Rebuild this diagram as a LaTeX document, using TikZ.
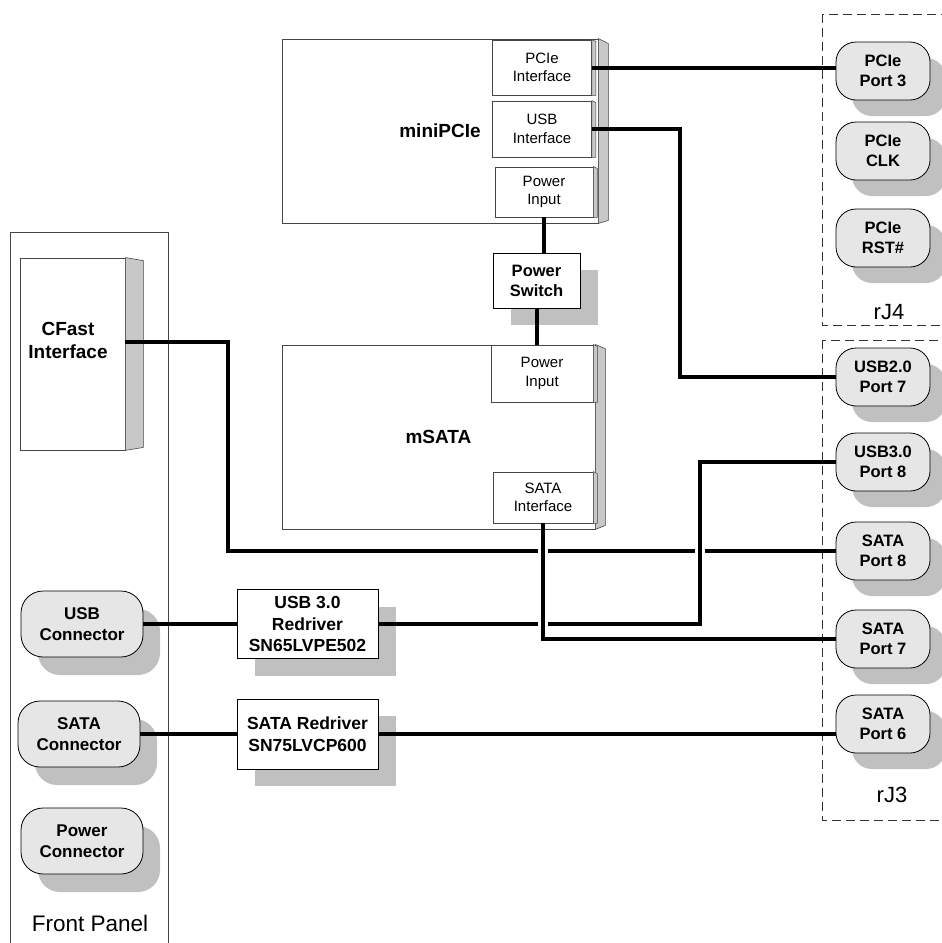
\documentclass[tikz,border=0pt]{standalone}
\usepackage{fontspec}
\setmainfont{Liberation Sans}
\usetikzlibrary{positioning, calc, shadows}
\definecolor{portGray}{RGB}{230,230,230}
\definecolor{shadeGray}{RGB}{192,192,192}
\definecolor{sideGray}{RGB}{200,200,200}
\definecolor{edgeGray}{RGB}{70,70,70}

\begin{document}
\begin{tikzpicture}[x=1pt, y=-1pt]
    \tikzstyle{block} = [rectangle, draw=edgeGray, fill=white, line width=0.8pt, inner sep=0pt]
    \tikzstyle{bigtext} = [font=\fontsize{19}{23}\selectfont\bfseries, align=center]
    \tikzstyle{iface} = [rectangle, draw=edgeGray, fill=white, line width=0.8pt, inner sep=0pt, align=center, font=\fontsize{15}{18.5}\selectfont]
    \tikzstyle{side} = [fill=sideGray, draw=edgeGray, line width=0.6pt]
    \tikzstyle{box} = [rectangle, draw=black, fill=white, line width=0.9pt, inner sep=0pt, align=center, drop shadow={shadow xshift=18pt, shadow yshift=-17pt, fill=shadeGray, opacity=1}]
    \tikzstyle{port} = [rectangle, rounded corners=20pt, draw=black, fill=portGray, line width=0.8pt, align=center, inner sep=0pt, minimum width=94pt, minimum height=58pt, font=\fontsize{16.5}{20}\selectfont\bfseries, drop shadow={shadow xshift=16pt, shadow yshift=-16pt, fill=shadeGray, opacity=1}]
    \tikzstyle{conn} = [rectangle, rounded corners=22pt, draw=black, fill=portGray, line width=0.8pt, align=center, inner sep=0pt, minimum width=122pt, minimum height=66pt, font=\fontsize{17}{21}\selectfont\bfseries, drop shadow={shadow xshift=17pt, shadow yshift=-18pt, fill=shadeGray, opacity=1}]
    \tikzstyle{group} = [draw=black!80, line width=0.8pt, dash pattern=on 9pt off 5pt]
    \tikzstyle{wire} = [line width=4pt]
    \tikzstyle{bridge} = [preaction={draw=white, line width=10pt, shorten <=22pt, shorten >=26pt}]

    \useasboundingbox (0,0) rectangle (942,943);
    \clip (0,0) rectangle (942,943);

    % front panel
    \draw[draw=edgeGray, line width=0.9pt] (10,960) -- (10,232) -- (168,232) -- (168,960);
    \node[font=\fontsize{22.5}{26}\selectfont] (fptext) at (90,923) {Front Panel};

    \node[block, minimum width=105pt, minimum height=192pt] (cfast) at (72.5,354) {};
    \filldraw[side] (cfast.north east) -- ++(18,3) -- ($(cfast.south east)+(18,-3)$) -- (cfast.south east) -- cycle;
    \node[bigtext] (cfastlbl) at (68,340) {CFast\\Interface};

    \node[conn] (usbc) at (82,624) {USB\\Connector};
    \node[conn] (satac) at (79,734) {SATA\\Connector};
    \node[conn] (pwrc) at (82,841) {Power\\Connector};

    % miniPCIe module
    \node[block, bigtext, minimum width=316pt, minimum height=184pt] (mini) at (440,131) {miniPCIe};
    \filldraw[side] (mini.north east) -- ++(10,5) -- ($(mini.south east)+(10,-3)$) -- (mini.south east) -- cycle;
    \node[iface, minimum width=99pt, minimum height=55pt] (pcieif) at (542,67.5) {PCIe\\Interface};
    \node[iface, minimum width=99pt, minimum height=56pt] (usbif) at (542,129) {USB\\Interface};
    \node[iface, minimum width=98pt, minimum height=50pt] (pwrA) at (544,192) {Power\\Input};

    \node[box, minimum width=87pt, minimum height=55pt, font=\fontsize{16.5}{20}\selectfont\bfseries] (psw) at (536.5,280.5) {Power\\Switch};

    % mSATA module
    \node[block, bigtext, minimum width=313pt, minimum height=184pt] (msata) at (438.5,437) {mSATA};
    \filldraw[side] (msata.north east) -- ++(10,4) -- ($(msata.south east)+(10,-4)$) -- (msata.south east) -- cycle;
    \node[iface, minimum width=102pt, minimum height=57pt] (pwrB) at (542,373.5) {Power\\Input};
    \node[iface, minimum width=100pt, minimum height=51pt] (sataif) at (543,497.5) {SATA\\Interface};

    \foreach \n in {pcieif, usbif, pwrA, pwrB, sataif}
        \filldraw[side, line width=0.5pt] (\n.north east) -- ++(4,2) -- ($(\n.south east)+(4,0)$) -- (\n.south east) -- cycle;

    % redrivers
    \node[box, minimum width=141pt, minimum height=69pt, font=\fontsize{17.5}{21.5}\selectfont\bfseries] (udrv) at (307.5,624) {USB 3.0\\Redriver\\SN65LVPE502};
    \node[box, minimum width=141pt, minimum height=70pt, font=\fontsize{17.5}{21.5}\selectfont\bfseries] (sdrv) at (307.5,734) {SATA Redriver\\SN75LVCP600};

    % rJ4 header
    \draw[group] (822,14) rectangle (960,325);
    \node[font=\fontsize{22}{26}\selectfont] (rj4) at (889,312) {rJ4};
    \node[port] (p3) at (883,71) {PCIe\\Port 3};
    \node[port] (clk) at (883,151) {PCIe\\CLK};
    \node[port] (rst) at (883,238) {PCIe\\RST\#};

    % rJ3 header
    \draw[group] (822,340) rectangle (960,820);
    \node[font=\fontsize{22}{26}\selectfont] (rj3) at (892,795) {rJ3};
    \node[port] (usb2) at (883,377) {USB2.0\\Port 7};
    \node[port] (usb3) at (883,462) {USB3.0\\Port 8};
    \node[port] (sata8) at (883,551) {SATA\\Port 8};
    \node[port] (sata7) at (883,639) {SATA\\Port 7};
    \node[port] (sata6) at (883,724) {SATA\\Port 6};

    % wiring
    \draw[wire] (pcieif.east) -- (pcieif.east -| p3.west);
    \draw[wire] (usbif.east) -- ++(88,0) |- (usb2.west);
    \draw[wire] (pwrA.south) -- (pwrA.south |- psw.north);
    \draw[wire] (psw.south) -- (psw.south |- pwrB.north);
    \draw[wire] ([yshift=12pt]cfast.east) -- ++(103,0) |- (sata8.west);
    \draw[wire] (usbc.east) -- (usbc.east -| udrv.west);
    \draw[wire] (satac.east) -- (sdrv.west);
    \draw[wire] (sdrv.east) -- (sdrv.east -| sata6.west);
    \draw[wire, bridge] (udrv.east) -- ++(322,0) |- (usb3.west);
    \draw[wire, bridge] (sataif.south) |- (sata7.west);
\end{tikzpicture}
\end{document}
